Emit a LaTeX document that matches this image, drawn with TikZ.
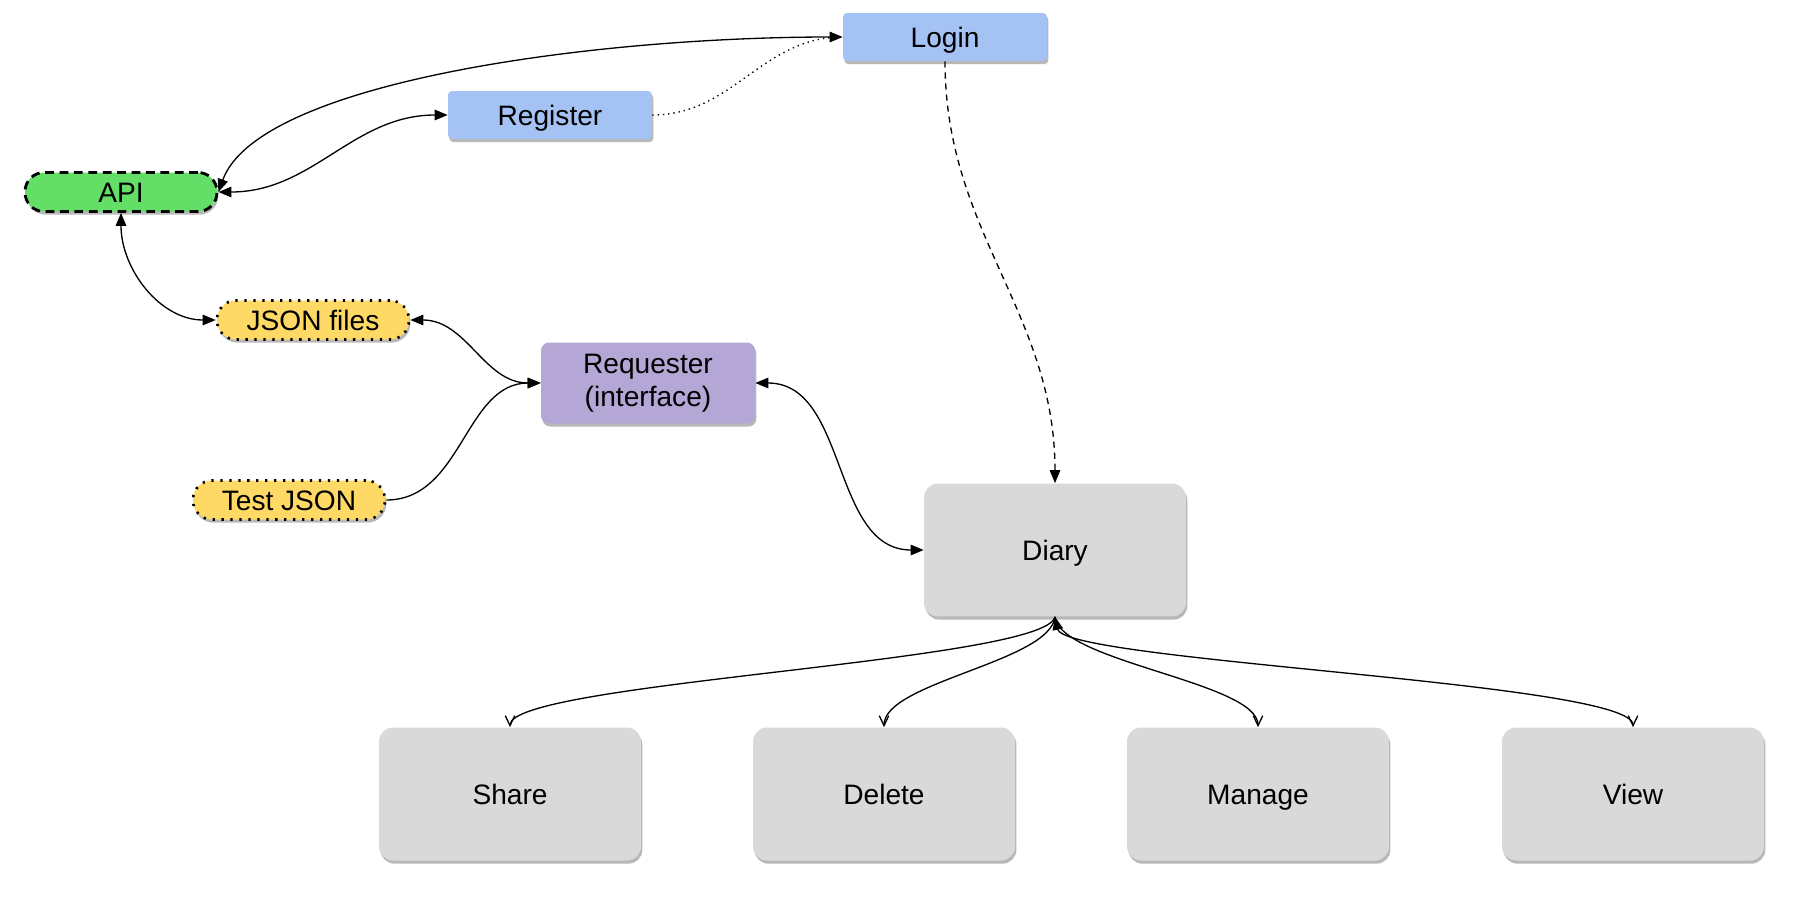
\documentclass[tikz,border=0pt]{standalone}
\usepackage{fontspec}
\setmainfont{Liberation Sans}
\usetikzlibrary{arrows.meta}
\usetikzlibrary{shadows}

\definecolor{loginblue}{HTML}{A4C2F4}
\definecolor{apigreen}{HTML}{63DE66}
\definecolor{jsonyellow}{HTML}{FFD966}
\definecolor{reqpurple}{HTML}{B4A7D6}
\definecolor{diarygray}{HTML}{D9D9D9}

\tikzset{
  boxshadow/.style={drop shadow={shadow xshift=0.8pt, shadow yshift=-1.8pt, opacity=0.28, fill=black}},
  basebox/.style={align=center, inner sep=0pt, text=black, font=\fontsize{16pt}{19pt}\selectfont, boxshadow},
  oneline/.style={text height=11.5pt, text depth=0pt},
  accessbox/.style={basebox, oneline, fill=loginblue, rounded corners=0.08cm, minimum width=4.08cm, minimum height=0.96cm},
  apibox/.style={basebox, oneline, fill=apigreen, draw=black, line width=1.6pt, dash pattern=on 5pt off 3.2pt, rounded corners=0.38cm, minimum width=3.84cm, minimum height=0.78cm},
  jsonbox/.style={basebox, oneline, fill=jsonyellow, draw=black, line width=1.5pt, dash pattern=on 1.3pt off 3.8pt, rounded corners=0.38cm, minimum width=3.84cm, minimum height=0.78cm},
  requestbox/.style={basebox, fill=reqpurple, rounded corners=0.16cm, minimum width=4.28cm, minimum height=1.62cm},
  diarybox/.style={basebox, oneline, fill=diarygray, rounded corners=0.28cm, minimum width=5.24cm, minimum height=2.66cm},
  link/.style={line width=0.75pt, draw=black},
  blk/.tip={Triangle[length=0.26cm, width=0.21cm]},
  brb/.tip={Straight Barb[length=0.2cm, width=0.19cm]}
}

\begin{document}
\begin{tikzpicture}[x=0.02cm, y=-0.02cm]
\useasboundingbox (0,0) rectangle (1811,896);

% Access
\node[accessbox] (login) at (945, 37) {Login};
\node[accessbox] (register) at (550, 115) {Register};
\node[apibox] (api) at (121, 192) {API};

% Data
\node[jsonbox] (jsonfiles) at (313, 320) {JSON files};
\node[jsonbox] (testjson) at (289, 500) {Test JSON};
\node[requestbox] (requester) at (648, 383) {Requester\\(interface)};

% Diary and actions
\node[diarybox] (diary) at (1055, 550) {Diary};
\node[diarybox] (share) at (510, 794) {Share};
\node[diarybox] (delete) at (884, 794) {Delete};
\node[diarybox] (manage) at (1258, 794) {Manage};
\node[diarybox] (view) at (1633, 794) {View};

% Links top
\draw[link, blk-blk] (api.east) .. controls +(40,-110) and +(-250,0) .. (login.west);
\draw[link, blk-blk] (api.east) to[out=0, in=180] (register.west);
\draw[link, dash pattern=on 0.8pt off 2.2pt] (register.east) to[out=0, in=180] (login.west);
\draw[link, dash pattern=on 3.5pt off 2.8pt, -blk] (login.south) to[out=-90, in=90] (diary.north);

% Links left
\draw[link, blk-blk] (api.south) to[out=-90, in=180] (jsonfiles.west);
\draw[link, blk-blk] (jsonfiles.east) to[out=0, in=180] (requester.west);
\draw[link, -blk] (testjson.east) to[out=0, in=180] (requester.west);
\draw[link, blk-blk] (requester.east) to[out=0, in=180] (diary.west);

% Links bottom
\draw[link, -brb] (diary.south) .. controls +(-10,45) and +(0,-45) .. (share.north);
\draw[link, -brb] (diary.south) .. controls +(-5,45) and +(0,-45) .. (delete.north);
\draw[link, -brb] (diary.south) .. controls +(5,45) and +(0,-45) .. (manage.north);
\draw[link, blk-brb] (diary.south) .. controls +(10,45) and +(0,-45) .. (view.north);

\end{tikzpicture}
\end{document}
